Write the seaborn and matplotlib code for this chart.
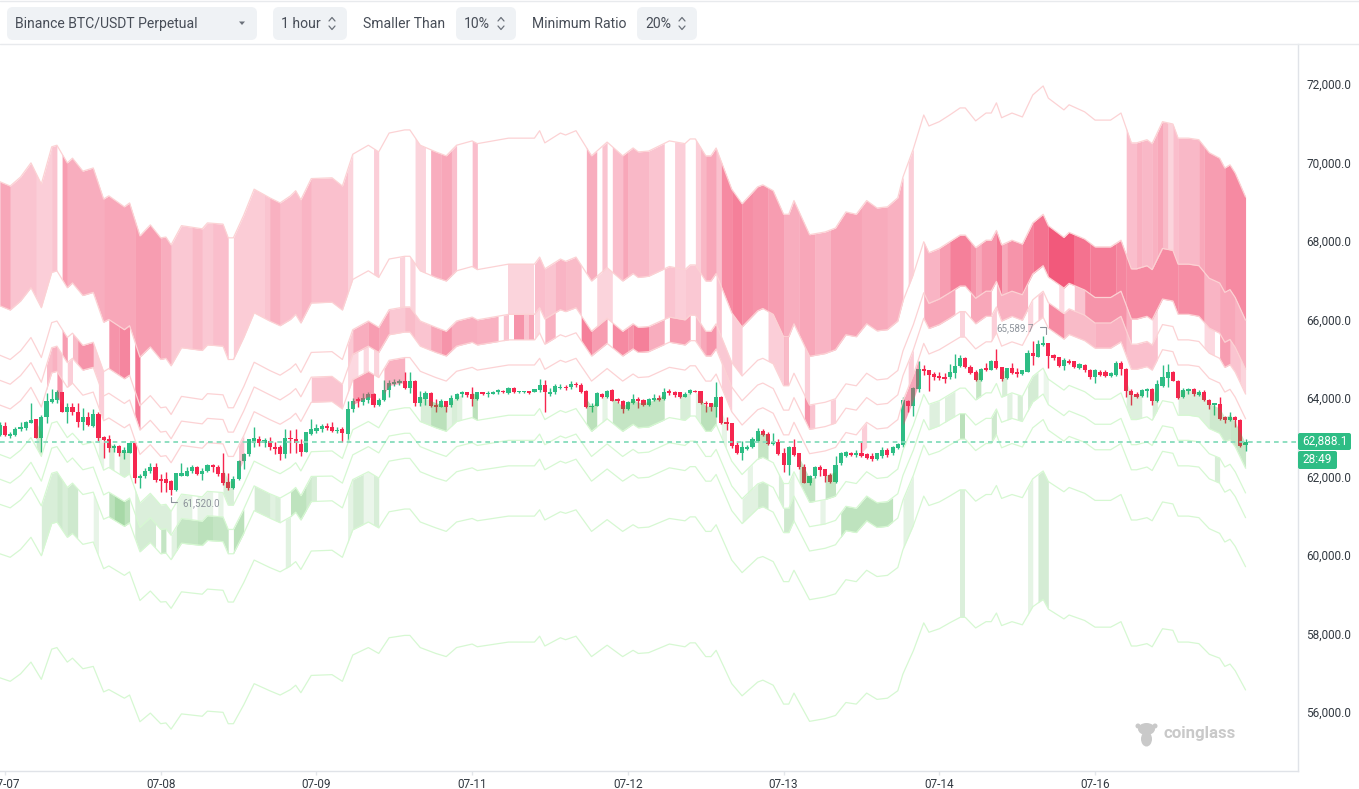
import numpy as np
import pandas as pd
import seaborn as sns
import matplotlib.pyplot as plt
from matplotlib.patches import FancyBboxPatch, Ellipse

# hours counted from the 07-07 tick, one candle per hour slot
knots = [-1,1,3,5,7,9,10,12,13,15, 17,19,20,23,24,26,28,30,31,32,
         34,38,39,42,43,44,46,48,51,53, 55,56,57,59,63,65,67,70,72,74,
         77,78,80,83,85,87,90,91,97,102, 103,104,107,108,110,113,116,119,121,122,
         124,128,131,132,133,135,136,137,140,142, 145,146,148,150,151,152,155,158,160,162,
         164,166,168,170,172,173,175,177,178,180, 182,184,185,187,189,190,191,192,194,196,
         198,200,201,204,205,208,210,213,215,217, 218,220,221,223,225,226,228,230,232,234,
         235,236,237,239]

mid = [63190,63090,63300,63630,63140,64000,64040,63630,63740,63440,
       63510,62790,62860,62610,62700,61940,62190,61890,61910,61730,
       62170,62100,62240,62210,61890,61890,62420,63020,62820,62700,
       62860,62980,62770,63260,63280,63090,63830,64040,63880,64320,
       64390,64390,64040,63880,63790,64040,64140,64070,64200,64200,
       64370,64090,64320,64270,64370,63790,64110,63790,63970,63880,
       63900,64140,64070,64180,64180,63790,63790,63970,63020,62680,
       63070,63120,62980,62440,62440,62750,61960,62030,62120,62490,
       62440,62750,62580,62610,62820,63300,63950,64740,64480,64580,
       64740,64900,64900,64600,64780,64780,65020,64670,64780,64690,
       65200,65410,65130,64850,64970,64810,64620,64620,64780,64090,
       64090,64160,64070,64580,64530,64200,64200,64160,63860,63740,
       63510,63580,63390,62840]

up_10 = [69510,69400,69630,69990,69450,70400,70440,69990,70110,69780,
         69860,69070,69150,68870,68970,68130,68410,68080,68100,67900,
         68390,68310,68460,68430,68080,68080,68660,69320,69100,68970,
         69150,69280,69050,69590,69610,69400,70210,70440,70270,70750,
         70830,70830,70440,70270,70170,70440,70550,70480,70620,70620,
         70810,70500,70750,70700,70810,70170,70520,70170,70370,70270,
         70290,70550,70480,70600,70600,70170,70170,70370,69320,68950,
         69380,69430,69280,68680,68680,69030,68160,68230,68330,68740,
         68680,69030,68840,68870,69100,69630,70350,71210,70930,71040,
         71210,71390,71390,71060,71260,71260,71520,71140,71260,71160,
         71720,71950,71640,71340,71470,71290,71080,71080,71260,70500,
         70500,70580,70480,71040,70980,70620,70620,70580,70250,70110,
         69860,69940,69730,69120]

up_5 = [66350,66240,66470,66810,66300,67200,67240,66810,66930,66610,
        66690,65930,66000,65740,65840,65040,65300,64980,65010,64820,
        65280,65210,65350,65320,64980,64980,65540,66170,65960,65840,
        66000,66130,65910,66420,66440,66240,67020,67240,67070,67540,
        67610,67610,67240,67070,66980,67240,67350,67270,67410,67410,
        67590,67290,67540,67480,67590,66980,67320,66980,67170,67070,
        67100,67350,67270,67390,67390,66980,66980,67170,66170,65810,
        66220,66280,66130,65560,65560,65890,65060,65130,65230,65610,
        65560,65890,65710,65740,65960,66470,67150,67980,67700,67810,
        67980,68150,68150,67830,68020,68020,68270,67900,68020,67920,
        68460,68680,68390,68090,68220,68050,67850,67850,68020,67290,
        67290,67370,67270,67810,67760,67410,67410,67370,67050,66930,
        66690,66760,66560,65980]

up_3 = [65090,64980,65200,65540,65030,65920,65960,65540,65650,65340,
        65420,64670,64750,64490,64580,63800,64060,63750,63770,63580,
        64040,63960,64110,64080,63750,63750,64290,64910,64700,64580,
        64750,64870,64650,65160,65180,64980,65740,65960,65800,66250,
        66320,66320,65960,65800,65700,65960,66060,65990,66130,66130,
        66300,66010,66250,66200,66300,65700,66030,65700,65890,65800,
        65820,66060,65990,66110,66110,65700,65700,65890,64910,64560,
        64960,65010,64870,64310,64310,64630,63820,63890,63980,64360,
        64310,64630,64460,64490,64700,65200,65870,66680,66410,66520,
        66680,66850,66850,66540,66720,66720,66970,66610,66720,66630,
        67160,67370,67080,66800,66920,66750,66560,66560,66720,66010,
        66010,66080,65990,66520,66470,66130,66130,66080,65780,65650,
        65420,65490,65290,64730]

up_2 = [64450,64350,64570,64900,64400,65280,65320,64900,65010,64710,
        64780,64050,64120,63860,63950,63180,63430,63130,63150,62960,
        63410,63340,63480,63450,63130,63130,63670,64280,64080,63950,
        64120,64240,64030,64530,64550,64350,65110,65320,65160,65610,
        65680,65680,65320,65160,65070,65320,65420,65350,65480,65480,
        65660,65370,65610,65560,65660,65070,65390,65070,65250,65160,
        65180,65420,65350,65460,65460,65070,65070,65250,64280,63930,
        64330,64380,64240,63690,63690,64010,63200,63270,63360,63740,
        63690,64010,63830,63860,64080,64570,65230,66030,65770,65870,
        66030,66200,66200,65890,66080,66080,66320,65960,66080,65980,
        66500,66720,66430,66150,66270,66110,65910,65910,66080,65370,
        65370,65440,65350,65870,65820,65480,65480,65440,65140,65010,
        64780,64850,64660,64100]

up_1 = [63820,63720,63930,64270,63770,64640,64680,64270,64380,64070,
        64150,63420,63490,63240,63330,62560,62810,62510,62530,62350,
        62790,62720,62860,62830,62510,62510,63040,63650,63450,63330,
        63490,63610,63400,63890,63910,63720,64470,64680,64520,64960,
        65030,65030,64680,64520,64430,64680,64780,64710,64840,64840,
        65010,64730,64960,64910,65010,64430,64750,64430,64610,64520,
        64540,64780,64710,64820,64820,64430,64430,64610,63650,63310,
        63700,63750,63610,63060,63060,63380,62580,62650,62740,63120,
        63060,63380,63210,63240,63450,63930,64590,65390,65120,65230,
        65390,65550,65550,65250,65430,65430,65670,65320,65430,65340,
        65850,66060,65780,65500,65620,65460,65270,65270,65430,64730,
        64730,64800,64710,65230,65180,64840,64840,64800,64500,64380,
        64150,64220,64020,63470]

down_1 = [62560,62460,62670,62990,62510,63360,63400,62990,63100,62810,
          62880,62160,62230,61980,62070,61320,61570,61270,61290,61110,
          61550,61480,61620,61590,61270,61270,61800,62390,62190,62070,
          62230,62350,62140,62630,62650,62460,63190,63400,63240,63680,
          63750,63750,63400,63240,63150,63400,63500,63430,63560,63560,
          63730,63450,63680,63630,63730,63150,63470,63150,63330,63240,
          63260,63500,63430,63540,63540,63150,63150,63330,62390,62050,
          62440,62490,62350,61820,61820,62120,61340,61410,61500,61870,
          61820,62120,61950,61980,62190,62670,63310,64090,63840,63930,
          64090,64250,64250,63950,64130,64130,64370,64020,64130,64040,
          64550,64760,64480,64200,64320,64160,63970,63970,64130,63450,
          63450,63520,63430,63930,63880,63560,63560,63520,63220,63100,
          62880,62940,62760,62210]

down_2 = [61930,61830,62030,62360,61880,62720,62760,62360,62470,62170,
          62240,61530,61600,61360,61450,60700,60950,60650,60670,60500,
          60930,60860,61000,60970,60650,60650,61170,61760,61560,61450,
          61600,61720,61510,62000,62010,61830,62550,62760,62600,63030,
          63100,63100,62760,62600,62510,62760,62860,62790,62920,62920,
          63080,62810,63030,62980,63080,62510,62830,62510,62690,62600,
          62620,62860,62790,62900,62900,62510,62510,62690,61760,61430,
          61810,61860,61720,61190,61190,61500,60720,60790,60880,61240,
          61190,61500,61330,61360,61560,62030,62670,63450,63190,63290,
          63450,63600,63600,63310,63480,63480,63720,63380,63480,63400,
          63900,64100,63830,63550,63670,63510,63330,63330,63480,62810,
          62810,62880,62790,63290,63240,62920,62920,62880,62580,62470,
          62240,62310,62120,61580]

down_3 = [61290,61200,61400,61720,61250,62080,62120,61720,61830,61540,
          61600,60910,60970,60730,60820,60080,60320,60030,60050,59880,
          60300,60240,60370,60340,60030,60030,60550,61130,60940,60820,
          60970,61090,60890,61360,61380,61200,61920,62120,61960,62390,
          62460,62460,62120,61960,61880,62120,62220,62150,62270,62270,
          62440,62170,62390,62340,62440,61880,62190,61880,62050,61960,
          61980,62220,62150,62250,62250,61880,61880,62050,61130,60800,
          61180,61230,61090,60570,60570,60870,60100,60170,60260,60620,
          60570,60870,60700,60730,60940,61400,62030,62800,62550,62640,
          62800,62950,62950,62660,62840,62840,63070,62730,62840,62750,
          63240,63450,63180,62900,63020,62870,62680,62680,62840,62170,
          62170,62240,62150,62640,62590,62270,62270,62240,61940,61830,
          61600,61670,61490,60950]

down_5 = [60030,59940,60140,60450,59980,60800,60840,60450,60550,60270,
          60330,59650,59720,59480,59570,58840,59080,58800,58810,58640,
          59060,59000,59130,59100,58800,58800,59300,59870,59680,59570,
          59720,59830,59630,60100,60120,59940,60640,60840,60690,61100,
          61170,61170,60840,60690,60600,60840,60930,60870,60990,60990,
          61150,60890,61100,61060,61150,60600,60900,60600,60770,60690,
          60710,60930,60870,60970,60970,60600,60600,60770,59870,59550,
          59920,59960,59830,59320,59320,59610,58860,58930,59010,59370,
          59320,59610,59450,59480,59680,60140,60750,61500,61260,61350,
          61500,61660,61660,61370,61540,61540,61770,61440,61540,61460,
          61940,62140,61870,61610,61720,61570,61390,61390,61540,60890,
          60890,60950,60870,61350,61300,60990,60990,60950,60670,60550,
          60330,60400,60220,59700]

down_10 = [56870,56780,56970,57270,56830,57600,57640,57270,57370,57100,
           57160,56510,56570,56350,56430,55750,55970,55700,55720,55560,
           55950,55890,56020,55990,55700,55700,56180,56720,56540,56430,
           56570,56680,56490,56930,56950,56780,57450,57640,57490,57890,
           57950,57950,57640,57490,57410,57640,57730,57660,57780,57780,
           57930,57680,57890,57840,57930,57410,57700,57410,57570,57490,
           57510,57730,57660,57760,57760,57410,57410,57570,56720,56410,
           56760,56810,56680,56200,56200,56480,55760,55830,55910,56240,
           56200,56480,56320,56350,56540,56970,57560,58270,58030,58120,
           58270,58410,58410,58140,58300,58300,58520,58200,58300,58220,
           58680,58870,58620,58370,58470,58330,58160,58160,58300,57680,
           57680,57740,57660,58120,58080,57780,57780,57740,57470,57370,
           57160,57220,57050,56560]

opens = [63060,63290,63020,63060,63200,63230,63370,63460,62990,63510,
         63900,63950,64160,63630,63780,63650,63380,63510,63290,63590,
         63010,62950,62720,62780,62610,62610,62850,61950,62010,62140,
         62250,61940,61930,61880,61660,62020,62020,62140,62250,62060,
         62140,62300,62250,62100,61870,61700,61940,62400,62560,62860,
         62960,62850,62910,62760,62760,62560,62990,62960,62830,62630,
         63080,63160,63200,63290,63250,63150,63200,63080,63710,63970,
         63900,63950,64100,63820,63950,64200,64360,64390,64420,64250,
         64440,63860,63970,64120,63820,63780,63910,63820,63970,64090,
         64140,64090,63970,64140,64090,64110,64140,64190,64120,64250,
         64140,64140,64180,64160,64200,64330,64100,64140,64250,64290,
         64270,64360,64340,64180,63760,63800,64100,64030,64200,63970,
         63930,63730,63860,63970,63950,63820,63950,63990,63970,64170,
         64140,64140,64030,64120,64190,64170,63880,63860,63760,64030,
         63400,63350,62790,62610,62710,62740,62910,63170,63080,62830,
         62890,62590,62280,62760,62590,62250,61840,62000,62250,62180,
         62030,61870,62340,62520,62590,62540,62590,62560,62520,62450,
         62520,62680,62590,62720,62800,63920,63800,64220,64730,64700,
         64600,64560,64540,64530,64630,64820,65010,64800,64670,64460,
         64760,64710,64930,64780,64500,64760,64670,64610,64670,65140,
         65050,65360,65390,65100,65040,64820,64950,64930,64770,64840,
         64710,64540,64670,64650,64570,64590,64900,64750,64190,64100,
         64050,64190,64220,63910,64310,64500,64670,64440,64020,64190,
         64240,64080,64160,63950,63810,63850,63510,63440,63520,63440,
         62800]

closes = [63310,63060,63080,63210,63250,63380,63440,62990,63520,63910,
          63970,64160,63640,63780,63640,63380,63510,63310,63580,62970,
          62930,62720,62780,62610,62670,62850,61950,62020,62150,62250,
          61910,61890,61840,61660,62080,62080,62150,62250,62060,62150,
          62300,62250,62060,61840,61700,61940,62400,62560,62950,62970,
          62850,62930,62740,62710,62560,62990,62960,62850,62630,63130,
          63200,63230,63290,63230,63160,63190,63100,63730,63930,63910,
          64010,64100,63820,63950,64200,64370,64400,64420,64250,64440,
          63860,64020,64120,63800,63780,63910,63780,63990,64100,64140,
          64070,63970,64140,64110,64120,64150,64200,64140,64250,64140,
          64170,64160,64120,64220,64330,64140,64160,64310,64290,64250,
          64360,64320,64160,63760,63800,64120,64020,64190,63930,63920,
          63730,63890,63970,63930,63820,63970,63990,63950,64160,64120,
          64080,64030,64100,64200,64150,63880,63850,63760,64030,63350,
          63340,62780,62610,62740,62760,62950,63170,63060,62830,62890,
          62570,62280,62760,62550,62230,61840,62010,62250,62170,62010,
          61870,62300,62600,62620,62540,62610,62520,62480,62440,62590,
          62680,62550,62760,62830,63950,63800,64260,64730,64690,64590,
          64540,64500,64480,64650,64820,65010,64780,64630,64460,64730,
          64710,64930,64760,64480,64760,64630,64600,64700,65140,65070,
          65380,65410,65070,65010,64820,64970,64900,64780,64860,64700,
          64530,64700,64590,64560,64630,64900,64730,64180,64080,64030,
          64200,64220,63910,64350,64530,64670,64440,63990,64200,64240,
          64090,64160,63950,63820,63860,63460,63440,63520,63440,62780,
          62890]

highs = [63400,63400,63140,63270,63400,63410,63860,63460,63570,64120,
         64220,64200,64160,63860,63860,63860,63740,63650,63710,63630,
         63030,63060,62830,62800,62760,62890,62890,62060,62210,62340,
         62350,62060,62120,61910,62100,62350,62250,62290,62270,62210,
         62320,62320,62290,62590,62080,62010,62420,62590,62950,63270,
         63030,62970,63000,62890,62800,63200,63190,63200,62950,63130,
         63460,63330,63330,63370,63380,63270,63250,63920,63990,64030,
         64120,64160,64120,63990,64460,64460,64480,64480,64670,64670,
         64460,64190,64190,64140,63970,63970,63930,64080,64120,64190,
         64150,64270,64150,64140,64190,64190,64240,64200,64290,64270,
         64190,64180,64190,64240,64480,64460,64250,64350,64360,64320,
         64430,64410,64370,64200,63860,64140,64120,64200,64220,63990,
         63950,63910,64090,64020,63970,63990,64100,64080,64250,64220,
         64190,64150,64140,64230,64200,64190,63910,63880,64410,64050,
         63510,63370,62890,62910,62800,63000,63230,63200,63120,63100,
         62950,62720,62780,62950,62610,62320,62040,62270,62290,62200,
         62080,62520,62620,62650,62620,62680,62890,62590,62590,62610,
         62760,62720,62780,62860,64020,63950,64290,64930,64840,64710,
         64670,64670,64630,64870,65120,65100,65040,64840,64710,64760,
         64880,64970,65240,64800,64770,64880,64760,64710,65210,65440,
         65480,65590,65410,65120,65050,65010,64990,64950,64880,64870,
         64730,64730,64710,64700,64670,64950,64930,64760,64220,64160,
         64220,64250,64250,64460,64840,64870,64690,64460,64250,64250,
         64250,64200,64200,63970,63880,64020,63540,63650,63540,63460,
         62950]

lows = [63020,63020,62970,63020,63170,63190,63350,62970,62630,63350,
        63860,63860,63630,63350,63570,63270,63190,63290,63270,62910,
        62460,62630,62630,62510,62440,62590,61830,61700,61950,62080,
        61870,61610,61610,61520,61640,62000,62000,62100,62040,61910,
        62110,62120,62010,61780,61660,61670,61910,62200,62520,62760,
        62780,62760,62680,62570,62420,62460,62590,62590,62510,62620,
        63060,63100,63140,63190,63130,63100,62890,62890,63650,63780,
        63820,63860,63780,63800,63930,64030,64310,64330,64220,64120,
        63800,63800,63820,63780,63630,63760,63630,63780,63950,64020,
        64030,63800,63950,64080,64030,64090,64100,64120,64100,64120,
        64120,64120,64100,64140,64160,63650,64050,64100,64240,64200,
        64240,64290,64120,63750,63650,63800,63990,64010,63910,63860,
        63610,63690,63840,63740,63800,63800,63930,63930,63950,64080,
        64020,63990,64020,64090,64140,63850,63630,63680,63520,63340,
        63190,62720,62570,62420,62680,62720,62890,63020,62800,62800,
        62540,62120,62040,62520,62190,61830,61780,61950,62010,61870,
        61840,61840,62290,62490,62510,62490,62490,62450,62400,62420,
        62460,62490,62550,62690,62760,63650,63550,64160,64590,64190,
        64460,64460,64390,64490,64500,64780,64760,64600,64430,64440,
        64690,64700,64740,64440,64480,64600,64540,64590,64650,64840,
        65040,65320,64760,64970,64800,64700,64870,64760,64730,64670,
        64480,64370,64560,64530,64540,64570,64590,64020,63820,63990,
        64030,64030,63820,63890,64290,64270,64420,63970,63990,64100,
        64060,64050,63910,63710,63570,63440,63350,63420,63270,62760,
        62660]

# (from hour, to hour, strength) runs of each band
band_a = [(-1,1,.45),(1,6,.3),(6,9,.25),(9,10,.3),(11,12,.5),(12,19,.42),(19,25,.45),(25,30,.5),
          (30,32,.42),(32,36,.28),(36,38,.35),(38,40,.28),(40,43,.33),(44,50,.26),(50,51,.3),(51,53,.4),
          (53,57,.33),(57,59,.38),(59,66,.32),(66,67,.22),(71,72,.25),(79,81,.22),(82,84,.42),(84,86,.45),
          (86,87,.33),(90,91,.33),(112,114,.42),(115,116,.3),(117,119,.33),(119,120,.45),(120,124,.36),
          (124,127,.3),(129,131,.25),(133,134,.25),(134,135,.37),(135,137,.45),(137,138,.32),(138,140,.6),
          (140,142,.65),(142,144,.58),(144,147,.55),(147,150,.5),(150,153,.42),(153,156,.45),(156,159,.38),
          (159,165,.47),(165,170,.43),(170,173,.4),(174,175,.25),(216,218,.33),(218,219,.4),(219,221,.36),
          (221,222,.4),(222,223,.45),(223,224,.35),(224,225,.22),(225,226,.33),(226,230,.36),(230,231,.45),
          (231,235,.5),(235,239,.6)]
band_b = [(20,22,.55),(22,24,.62),(25,26,.7),(76,77,.22),(78,79,.22),(97,102,.22),(102,104,.33),(104,106,.3),
          (106,108,.38),(108,111,.35),(114,117,.22),(127,129,.3),(129,131,.25),(131,134,.28),(137,138,.3),
          (140,142,.25),(147,150,.25),(150,151,.35),(154,155,.25),(177,180,.38),(180,182,.5),(182,186,.65),
          (186,187,.55),(187,188,.45),(188,191,.55),(191,192,.7),(192,193,.45),(193,196,.55),(196,198,.65),
          (198,201,.72),(201,206,.85),(206,209,.72),(209,214,.68),(214,216,.62),(216,226,.6),(226,231,.58),
          (231,234,.38),(234,237,.45),(237,239,.4)]
band_c = [(11,12,.5),(13,14,.35),(14,17,.55),(17,19,.25),(25,26,.7),(66,67,.28),(67,70,.42),(70,72,.5),
          (72,74,.45),(74,77,.28),(77,79,.35),(79,82,.3),(82,84,.45),(84,86,.55),(86,91,.42),(91,95,.4),
          (96,97,.3),(98,100,.55),(100,101,.3),(101,102,.45),(102,103,.2),(104,106,.4),(111,113,.65),
          (113,116,.5),(117,120,.6),(120,121,.55),(121,124,.65),(124,127,.42),(128,132,.5),(133,134,.35),
          (134,135,.45),(135,137,.55),(137,140,.28),(154,155,.55),(155,156,.3),(159,160,.25),(177,183,.45),
          (186,190,.45),(191,197,.4),(203,204,.2),(206,208,.3),(208,216,.55),(216,217,.4),(221,222,.2),
          (231,233,.2),(234,236,.5),(236,238,.3),(238,239,.22)]
band_d = [(8,9,.35),(9,10,.4),(10,11,.3),(12,13,.25),(18,19,.25),(59,65,.3),(66,68,.2),(69,70,.2),(71,72,.22),
          (138,140,.25),(174,175,.25),(184,185,.22),(190,191,.25),(197,198,.2),(199,200,.3),(201,204,.6),
          (204,210,.35),(210,216,.4),(216,222,.32)]
band_e = [(10,11,.55),(45,46,.3),(67,71,.5),(73,77,.4),(165,166,.25),(173,176,.45)]
band_f = [(6,7,.25),(18,19,.12),(20,21,.2),(22,24,.2),(42,44,.2),(80,82,.2),(82,85,.35),(85,86,.12),(86,87,.2),
          (87,88,.15),(90,91,.35),(112,114,.35),(115,116,.13),(117,127,.3),(130,132,.2),(133,134,.15),
          (134,137,.35),(138,139,.12),(145,147,.3),(153,156,.3),(158,160,.3),(187,188,.3),(192,193,.2),
          (216,219,.17),(221,222,.2),(226,232,.17),(232,236,.25),(236,239,.28)]
band_g = [(25,32,.18),(33,36,.14),(37,40,.12),(41,42,.12),(143,144,.12),(149,150,.2),(151,152,.15),(157,158,.12),
          (178,180,.17),(181,183,.17),(193,194,.15),(195,196,.2),(197,199,.22),(200,201,.1)]
band_h = [(20,21,.35),(21,23,.45),(23,24,.35),(25,29,.22),(30,31,.3),(32,33,.15),(33,37,.3),(37,40,.35),(40,43,.3),
          (44,46,.35),(48,51,.22),(51,52,.15),(52,53,.2),(55,58,.33),(58,59,.25),(59,60,.2),(142,145,.15),
          (145,147,.25),(150,152,.25),(161,171,.33),(184,185,.35),(190,191,.25),(233,234,.2)]
band_i = [(7,10,.2),(10,11,.25),(11,12,.2),(12,14,.25),(17,18,.12),(54,55,.15),
          (66,67,.13),(67,69,.22),(69,71,.1),(71,72,.2),(173,175,.14)]
band_j = [(184,185,.18),(197,198,.13),(199,201,.22)]

tick_hours = [0, 30, 60, 90, 120, 150, 180, 210]
tick_labels = ["07-07", "07-08", "07-09", "07-11", "07-12", "07-13", "07-14", "07-16"]
price_ticks = [56000, 58000, 60000, 62000, 64000, 66000, 68000, 70000, 72000]
last_price = 62888.1

sns.set_theme(style="white")
plt.rcParams['font.family'] = ['Roboto', 'DejaVu Sans']

RED_LINE = "#fcd2d4"
GREEN_LINE = "#d6f8d2"
RED_FILL = "#f03c64"
GREEN_FILL = "#3caa3c"
UP = "#2ebd85"
DOWN = "#f6264f"

fig = plt.figure(figsize=(13.59, 7.89), dpi=100)
ax = fig.add_axes([0, 18 / 789, 1298 / 1359, 727 / 789])
ax.set_xlim(-0.963, 249.1)
ax.set_ylim(54495, 73019)

# candles
hours = np.arange(-1, 240)
o, c = np.array(opens), np.array(closes)
colors = [UP if b >= a else DOWN for a, b in zip(o, c)]
ax.vlines(hours, lows, highs, colors=colors, lw=1, zorder=1)
ax.bar(hours, np.maximum(np.abs(c - o), 25), bottom=np.minimum(o, c), width=0.8, color=colors, lw=0, zorder=1)

# liquidation level lines
lines = {"up_10": up_10, "up_5": up_5, "up_3": up_3, "up_2": up_2, "up_1": up_1,
         "down_1": down_1, "down_2": down_2, "down_3": down_3, "down_5": down_5, "down_10": down_10}
long_df = pd.concat([pd.DataFrame({"hour": knots, "price": v, "level": k}) for k, v in lines.items()])
palette = {k: (RED_LINE if k.startswith("up") else GREEN_LINE) for k in lines}
sns.lineplot(data=long_df, x="hour", y="price", hue="level", palette=palette, estimator=None, sort=False,
             legend=False, lw=0.9, ax=ax, zorder=3)

# bands, one polygon per run, its edges follow the two level lines
bands = [(up_10, up_5, band_a, RED_FILL), (up_5, up_3, band_b, RED_FILL), (up_3, up_2, band_c, RED_FILL),
         (up_2, up_1, band_d, RED_FILL), (up_1, mid, band_e, RED_FILL), (mid, down_1, band_f, GREEN_FILL),
         (down_1, down_2, band_g, GREEN_FILL), (down_2, down_3, band_h, GREEN_FILL),
         (down_3, down_5, band_i, GREEN_FILL), (down_5, down_10, band_j, GREEN_FILL)]
for upper, lower, runs, color in bands:
    for start, end, level in runs:
        xs = [start] + [k for k in knots if start < k < end] + [end]
        ax.fill_between(xs, np.interp(xs, knots, upper), np.interp(xs, knots, lower), color=color, alpha=level,
                        lw=0, antialiased=False, zorder=2)

ax.axhline(last_price, color="#86dcbc", lw=1.3, ls=(0, (2.6, 2.2)), zorder=4)

ax.text(34.1, 61324, "61,520.0", color="#8d939b", fontsize=7, va="center", ha="left", zorder=5)
ax.text(198.3, 65783, "65,589.7", color="#8d939b", fontsize=7, va="center", ha="right", zorder=5)
ax.plot([32, 32, 33.2], [61480, 61340, 61340], color="#8d939b", lw=0.8, zorder=5)
ax.plot([199.4, 200.6, 200.6], [65800, 65800, 65620], color="#8d939b", lw=0.8, zorder=5)

# axes
ax.yaxis.tick_right()
ax.set_yticks(price_ticks)
ax.set_yticklabels([f"{v:,.1f}" for v in price_ticks])
ax.set_xticks(tick_hours)
ax.set_xticklabels(tick_labels)
ax.set_xlabel("")
ax.set_ylabel("")
ax.tick_params(axis="both", length=3, width=1, color="#e3e6ea", labelcolor="#333a42", labelsize=8.5, pad=2)
ax.tick_params(axis="y", pad=3)
ax.tick_params(left=False, labelleft=False, right=True, labelright=True, bottom=True)
sns.despine(ax=ax, left=True, top=True, right=False)
for side in ("right", "bottom"):
    ax.spines[side].set_color("#e0e3e8")
    ax.spines[side].set_linewidth(1)

# header bar, price tag and watermark in screen pixels
ui = fig.add_axes([0, 0, 1, 1], zorder=10)
ui.set_xlim(0, 1359)
ui.set_ylim(789, 0)
ui.axis("off")
ui.plot([0, 1359], [1, 1], color="#e8eaed", lw=1)
ui.plot([0, 1359], [44, 44], color="#e8eaed", lw=1)
for x0, x1 in [(7, 257), (273, 347), (456, 516), (637, 697)]:
    ui.add_patch(FancyBboxPatch((x0 + 4, 11), x1 - x0 - 8, 25, boxstyle="round,pad=4,rounding_size=6",
                                fc="#eff2f5", ec="none"))
for x, label in [(15, "Binance BTC/USDT Perpetual"), (281, "1 hour"), (363, "Smaller Than"), (464, "10%"),
                 (532, "Minimum Ratio"), (645, "20%")]:
    ui.text(x, 23.5, label, color="#474d57", fontsize=10.1, va="center", ha="left")
ui.fill([239, 245, 242], [21.5, 21.5, 25], color="#6b717a", lw=0)
for x in [332, 501, 682]:
    ui.plot([x - 3, x, x + 3], [21, 17.5, 21], color="#6b717a", lw=0.9)
    ui.plot([x - 3, x, x + 3], [26, 29.5, 26], color="#6b717a", lw=0.9)

ui.add_patch(FancyBboxPatch((1300, 435), 49, 13, boxstyle="round,pad=2,rounding_size=2", fc=UP, ec="none"))
ui.add_patch(FancyBboxPatch((1300, 453), 35, 14, boxstyle="round,pad=2,rounding_size=2", fc=UP, ec="none"))
ui.text(1302, 441.5, "62,888.1", color="white", fontsize=8.5, va="center", ha="left")
ui.text(1302, 459.5, "28:49", color="white", fontsize=8.5, va="center", ha="left")

# coinglass mark: head, ears, body
ui.add_patch(Ellipse((1146.5, 729), 17, 12, fc="#c9c9c9", ec="none"))
ui.add_patch(Ellipse((1138, 726), 5, 5, fc="#c9c9c9", ec="none"))
ui.add_patch(Ellipse((1155, 726), 5, 5, fc="#c9c9c9", ec="none"))
ui.add_patch(Ellipse((1146.5, 739), 11, 15, fc="#c9c9c9", ec="none"))
ui.text(1163, 733.5, "coinglass", color="#c9c9c9", fontsize=12.2, fontweight="bold", va="center", ha="left")

fig.savefig("out.png", dpi=100)
